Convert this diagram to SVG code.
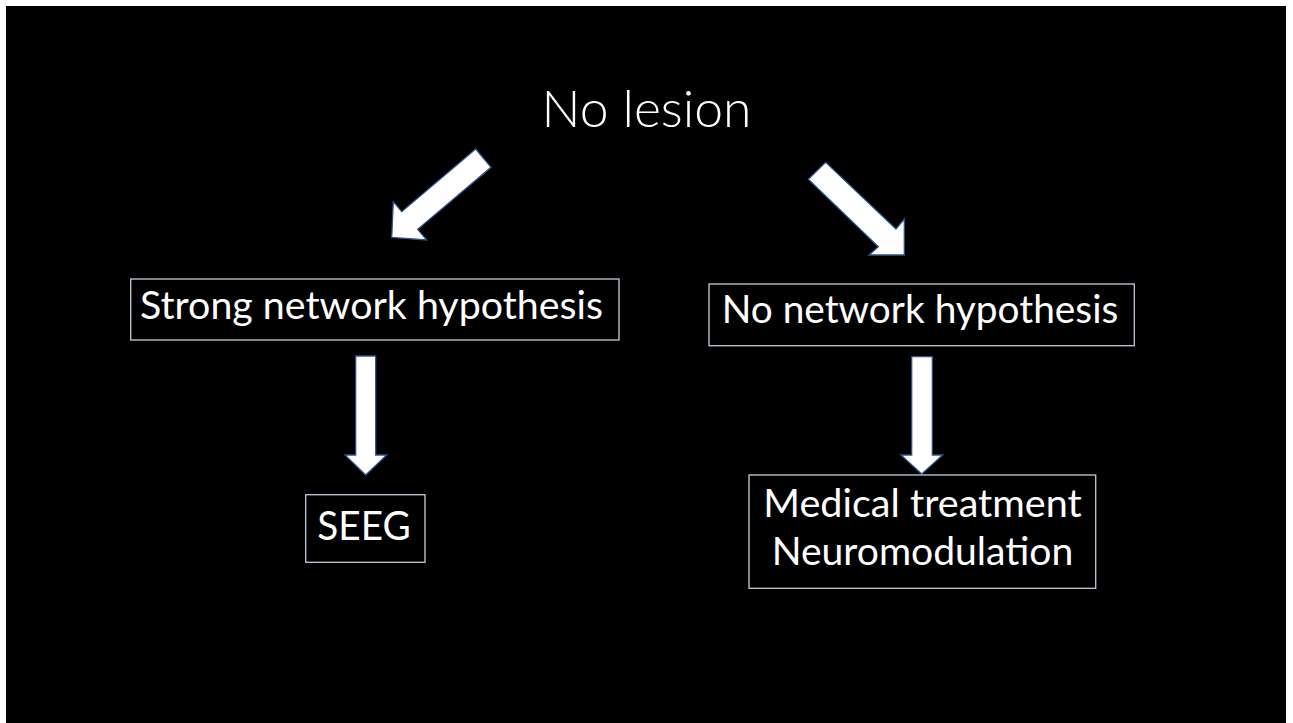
<svg xmlns="http://www.w3.org/2000/svg" width="1293" height="723" viewBox="0 0 1293 723">
<style>
.box{fill:#000;stroke:#c3cbdb;stroke-width:1.3}
.arrow{fill:#fff;stroke:#2f528f;stroke-width:1.3;stroke-linejoin:miter}
.t{font-family:Lato,"Open Sans","Liberation Sans",sans-serif;fill:#fff}
</style>
<rect x="0" y="0" width="1293" height="723" fill="#fff"/>
<rect x="6" y="6" width="1280" height="717" fill="#000"/>
<g id="title">
<text class="t" x="541.5" y="127.3" font-size="51" font-weight="300" textLength="210" lengthAdjust="spacingAndGlyphs">No lesion</text>
</g>
<g id="connectors">
<polygon class="arrow" points="475.7,149 491,167.3 417.7,229.3 426.7,240 391.7,237.5 393.3,201.7 401.7,211.7"/>
<polygon class="arrow" points="825.7,162.3 808.3,179.3 878.3,246.7 869,255 904.3,255 904.3,219 896,229"/>
<polygon class="arrow" points="355.7,356 375.7,356 375.7,455 386.7,455 365.7,475 345,455 355.7,455"/>
<polygon class="arrow" points="911.7,356.7 932.3,356.7 932.3,455 942.7,455 921.7,474 901,455 911.7,455"/>
</g>
<g id="strong">
<rect class="box" x="130.7" y="279" width="488.3" height="61"/>
<text class="t" x="140" y="319.3" font-size="38" textLength="463" lengthAdjust="spacingAndGlyphs">Strong network hypothesis</text>
</g>
<g id="nonet">
<rect class="box" x="709" y="284" width="425.3" height="61.7"/>
<text class="t" x="721.7" y="323.3" font-size="38" textLength="396.6" lengthAdjust="spacingAndGlyphs">No network hypothesis</text>
</g>
<g id="seeg">
<rect class="box" x="305.7" y="494.7" width="119.3" height="67.6"/>
<text class="t" x="317.3" y="540" font-size="41" textLength="93.4" lengthAdjust="spacingAndGlyphs">SEEG</text>
</g>
<g id="medical">
<rect class="box" x="749" y="475" width="346.7" height="113.3"/>
<text class="t" x="763.3" y="516.7" font-size="38" textLength="318.4" lengthAdjust="spacingAndGlyphs">Medical treatment</text>
<text class="t" x="771.7" y="565" font-size="38" textLength="301.6" lengthAdjust="spacingAndGlyphs">Neuromodulation</text>
</g>
</svg>
